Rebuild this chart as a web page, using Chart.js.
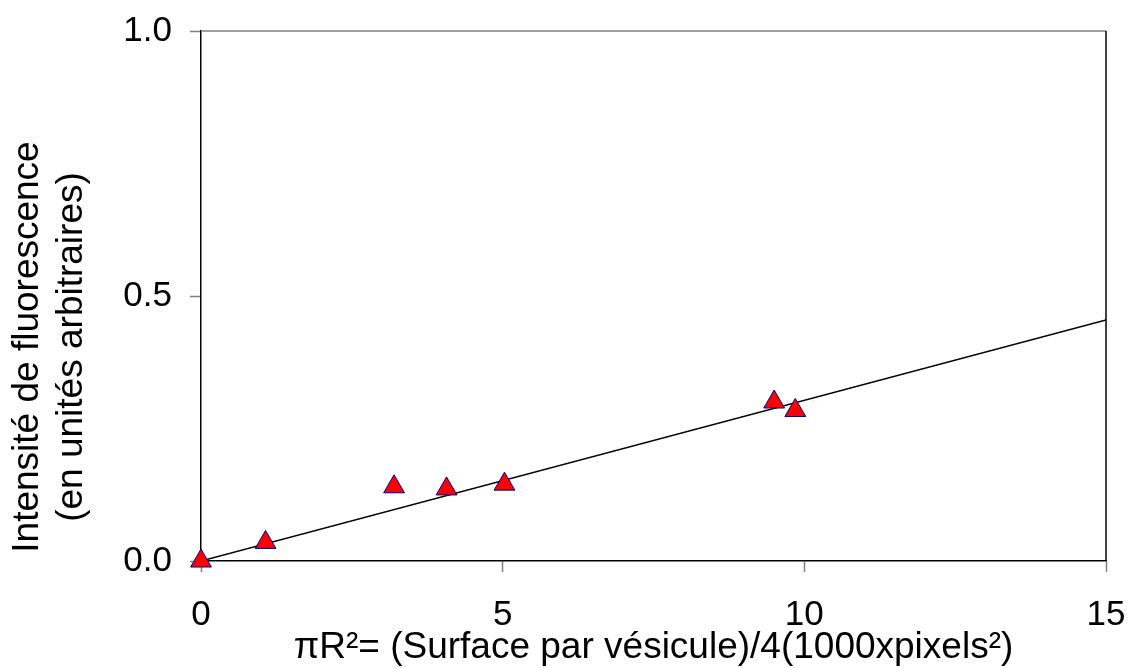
<!DOCTYPE html>
<html>
<head>
<meta charset="utf-8">
<script src="https://cdn.jsdelivr.net/npm/chart.js@4"></script>
<style>
  html, body { margin: 0; padding: 0; background: #fff; }
  #wrap { width: 1129px; height: 668px; }
</style>
</head>
<body>
<div id="wrap"><canvas id="myChart"></canvas></div>
<script>
// measured points
var surface = [0, 1.07, 3.2, 4.07, 5.03, 9.5, 9.85];
var intensity = [0, 0.035, 0.14, 0.136, 0.145, 0.3, 0.284];
// fitted line ends
var fitX = [0, 15];
var fitY = [0, 0.455];
var xTicks = [0, 5, 10, 15];
var yTicks = [0, 0.5, 1];

var FONT = 'Liberation Sans, Arial, Helvetica, sans-serif';

// frame on top and right of the plot, and push the y title a bit lower
var frame = {
    id: 'frame',
    afterLayout: function (chart) {
        var ys = chart.scales.y;
        if (ys._titleWrapped) return;
        var orig = ys.drawTitle;
        // y title sits lower than the plot centre in the original
        ys.drawTitle = function () {
            var b = this.bottom;
            this.bottom = b + 102;
            orig.call(this);
            this.bottom = b;
        };
        ys._titleWrapped = true;
    },
    afterDraw: function (chart) {
        var c = chart.ctx, a = chart.chartArea;
        c.save();
        c.lineWidth = 1.5;
        c.strokeStyle = '#808080';
        c.beginPath();
        c.moveTo(a.left, a.top);
        c.lineTo(a.right, a.top);
        c.stroke();
        c.strokeStyle = '#000';
        c.beginPath();
        c.moveTo(a.right, a.top);
        c.lineTo(a.right, a.bottom);
        c.stroke();
        c.restore();
    }
};

var ctx = document.getElementById('myChart').getContext('2d');
var myChart = new Chart(ctx, {
    type: 'scatter',
    data: {
        datasets: [{
            type: 'line',
            data: fitX.map(function (x, i) { return {x: x, y: fitY[i]}; }),
            borderColor: '#000',
            borderWidth: 1.5,
            pointRadius: 0,
            fill: false,
            order: 2
        }, {
            data: surface.map(function (x, i) { return {x: x, y: intensity[i]}; }),
            pointStyle: 'triangle',
            pointRadius: 12,
            pointHoverRadius: 12,
            backgroundColor: '#ff0000',
            borderColor: '#000080',
            borderWidth: 1,
            clip: false,
            order: 1
        }]
    },
    options: {
        responsive: true,
        maintainAspectRatio: false,
        animation: false,
        events: [],
        layout: { padding: { top: 31, right: 23, left: 0, bottom: 0 } },
        plugins: { legend: { display: false }, tooltip: { enabled: false } },
        scales: {
            x: {
                type: 'linear',
                min: 0,
                max: 15,
                afterBuildTicks: function (s) { s.ticks = xTicks.map(function (v) { return {value: v}; }); },
                afterFit: function (s) { s.height = 107; s.paddingLeft = 0; s.paddingRight = 0; },
                ticks: { color: '#000', font: { family: FONT, size: 35 }, padding: 22, maxRotation: 0 },
                grid: { drawOnChartArea: false, tickLength: 11, tickColor: '#808080', tickWidth: 1.5 },
                border: { color: '#000', width: 1.5 },
                title: {
                    display: true,
                    text: 'πR²= (Surface par vésicule)/4(1000xpixels²)',
                    color: '#000',
                    font: { family: FONT, size: 37, lineHeight: 1.1 },
                    padding: { top: 0, bottom: 0 }
                }
            },
            y: {
                min: 0,
                max: 1,
                afterBuildTicks: function (s) { s.ticks = yTicks.map(function (v) { return {value: v}; }); },
                afterFit: function (s) { s.width = 201; s.paddingTop = 0; s.paddingBottom = 0; },
                ticks: {
                    color: '#000',
                    font: { family: FONT, size: 35 },
                    padding: 18,
                    callback: function (v) { return v.toFixed(1); }
                },
                grid: { drawOnChartArea: false, tickLength: 11, tickColor: '#808080', tickWidth: 1.5 },
                border: { color: '#000', width: 1.5 },
                title: {
                    display: true,
                    text: ['Intensité de fluorescence', '(en unités arbitraires)'],
                    color: '#000',
                    font: { family: FONT, size: 37, lineHeight: 1.19 },
                    padding: { top: 6, bottom: 0 }
                }
            }
        }
    },
    plugins: [frame]
});
</script>
</body>
</html>
